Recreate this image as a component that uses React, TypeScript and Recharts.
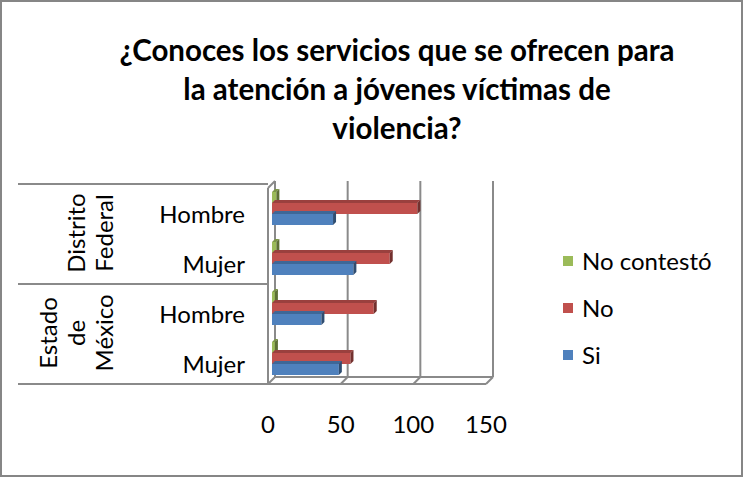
import React from 'react';
import { BarChart, Bar, XAxis, YAxis, CartesianGrid } from 'recharts';

const ids = ['df-h', 'df-m', 'em-h', 'em-m'];
const subLabels = ['Hombre', 'Mujer', 'Hombre', 'Mujer'];
const groupOf = [0, 0, 1, 1];
const groupLines = [['Distrito', 'Federal'], ['Estado', 'de', 'México']];
const siValues = [42, 56, 34, 46];
const noValues = [100, 81, 70, 54];
const noContestoValues = [3, 3, 2, 2];
const xTicks = [0, 50, 100, 150];
const titleLines = ['¿Conoces los servicios que se ofrecen para', 'la atención a jóvenes víctimas de', 'violencia?'];
const seriesNames = ['No contestó', 'No', 'Si'];
const seriesKeys = ['nc', 'no', 'si'];
const seriesColors = ['#9BBB59', '#C0504D', '#4F81BD'];

const data = ids.map((id, i) => ({
  id,
  label: subLabels[i],
  group: groupOf[i],
  si: siValues[i],
  no: noValues[i],
  nc: noContestoValues[i],
}));

const W = 743;
const H = 477;
const X_H = 30;
const M = { top: 183, right: 253, bottom: 94 - X_H, left: 0 };
const Y_W = 272;
const BAND = (H - M.top - M.bottom - X_H) / ids.length;
const FONT = 'Lato, "Open Sans", sans-serif';
const LBL = 24;
const GRID = '#8a8a8a';

const shade = (hex: string, f: number) => {
  const n = parseInt(hex.slice(1), 16);
  const r = Math.round(((n >> 16) & 255) * f);
  const g = Math.round(((n >> 8) & 255) * f);
  const b = Math.round((n & 255) * f);
  return `rgb(${r},${g},${b})`;
};

const Bar3D = (props: any) => {
  const { x, y, width, height, fill } = props;
  if (width == null || height == null) return null;
  const d = 3;
  const w = Math.max(width, 0);
  return (
    <g>
      <rect x={x} y={y} width={w} height={height} fill={fill} />
      <polygon points={`${x},${y} ${x + d},${y - d} ${x + w + d},${y - d} ${x + w},${y}`} fill={shade(fill, 0.8)} />
      <polygon points={`${x + w},${y} ${x + w + d},${y - d} ${x + w + d},${y + height - d} ${x + w},${y + height}`} fill={shade(fill, 0.6)} />
    </g>
  );
};

const gridLine = (props: any) => {
  const { x1, y1, y2, index, x, width } = props;
  const bx = x1 + 3;
  const fx = x1 - 4;
  const els: any[] = [];
  els.push(<line key="b" x1={bx} y1={y1 - 2} x2={bx} y2={y2 - 6} stroke={GRID} strokeWidth={2} />);
  els.push(<line key="d" x1={bx} y1={y2 - 6} x2={fx} y2={y2 + 1} stroke={GRID} strokeWidth={2} />);
  if (index === 0) {
    els.push(<line key="f" x1={fx} y1={y1 + 5} x2={fx} y2={y2 + 1} stroke={GRID} strokeWidth={2} />);
    els.push(<line key="t" x1={fx} y1={y1 + 5} x2={bx} y2={y1 - 2} stroke={GRID} strokeWidth={2} />);
    if (x != null && width != null) {
      els.push(<line key="ff" x1={fx} y1={y2 + 1} x2={x + width - 4} y2={y2 + 1} stroke={GRID} strokeWidth={2} />);
      els.push(<line key="bf" x1={bx} y1={y2 - 6} x2={x + width + 3} y2={y2 - 6} stroke={GRID} strokeWidth={2} />);
    }
  }
  return <g key={`g-${index}`}>{els}</g>;
};

const YTick = (props: any) => {
  const { y, payload, index } = props;
  const i = index ?? ids.indexOf(payload.value);
  const row = data[i];
  const els: any[] = [];
  els.push(
    <text key="l" x={245} y={y + 5} textAnchor="end" dominantBaseline="central" fontFamily={FONT} fontSize={LBL} fill="#000">
      {row.label}
    </text>
  );
  const first = i === 0 || groupOf[i - 1] !== groupOf[i];
  const last = i === ids.length - 1;
  if (first) {
    els.push(<line key="tl" x1={18} y1={y - BAND / 2 + 1} x2={268} y2={y - BAND / 2 + 1} stroke={GRID} strokeWidth={2} />);
    const lines = groupLines[row.group];
    const cy = y + BAND / 2;
    lines.forEach((ln, k) => {
      const cx = 103 - (lines.length - 1 - k) * 28;
      els.push(
        <text key={`g${k}`} x={cx} y={cy} transform={`rotate(-90 ${cx} ${cy})`} textAnchor="middle" dominantBaseline="central" fontFamily={FONT} fontSize={LBL} fill="#000">
          {ln}
        </text>
      );
    });
  }
  if (last) {
    els.push(<line key="bl" x1={18} y1={y + BAND / 2 + 1} x2={268} y2={y + BAND / 2 + 1} stroke={GRID} strokeWidth={2} />);
  }
  return <g>{els}</g>;
};

const XTick = (props: any) => {
  const { x, y, payload } = props;
  return (
    <text x={x - 4} y={y + 32} textAnchor="middle" dominantBaseline="central" fontFamily={FONT} fontSize={LBL} fill="#000">
      {payload.value}
    </text>
  );
};

export default function App() {
  return (
    <div style={{ position: 'absolute', left: 0, top: 0, width: W, height: H, boxSizing: 'border-box', border: '2px solid #868686', background: '#fff' }}>
      <div style={{ position: 'absolute', left: -2, top: -2, width: W, height: H }}>
        <div style={{ position: 'absolute', left: 47, width: 700, top: 30, textAlign: 'center', fontFamily: FONT, fontWeight: 700, fontSize: 29.5, lineHeight: '39px', color: '#000' }}>
          {titleLines.map((t, k) => (
            <div key={k}>{t}</div>
          ))}
        </div>
        <div style={{ position: 'absolute', left: 563, top: 237 }}>
          {seriesNames.map((n, k) => (
            <div key={k} style={{ display: 'flex', alignItems: 'center', height: 47, fontFamily: FONT, fontSize: LBL, color: '#000', whiteSpace: 'nowrap' }}>
              <span style={{ display: 'inline-block', width: 10, height: 10, background: seriesColors[k], marginRight: 9 }} />
              <span>{n}</span>
            </div>
          ))}
        </div>
        <BarChart width={W} height={H} data={data} layout="vertical" margin={M} barSize={11} barGap={0}>
          <CartesianGrid horizontal={false} vertical={gridLine as any} stroke={GRID} />
          <XAxis type="number" domain={[0, 150]} ticks={xTicks} axisLine={false} tickLine={false} tick={<XTick />} interval={0} height={X_H} />
          <YAxis type="category" dataKey="id" width={Y_W} axisLine={false} tickLine={false} tick={<YTick />} interval={0} />
          {seriesKeys.map((k, i) => (
            <Bar key={k} dataKey={k} name={seriesNames[i]} fill={seriesColors[i]} shape={<Bar3D />} isAnimationActive={false} />
          ))}
        </BarChart>
      </div>
    </div>
  );
}
